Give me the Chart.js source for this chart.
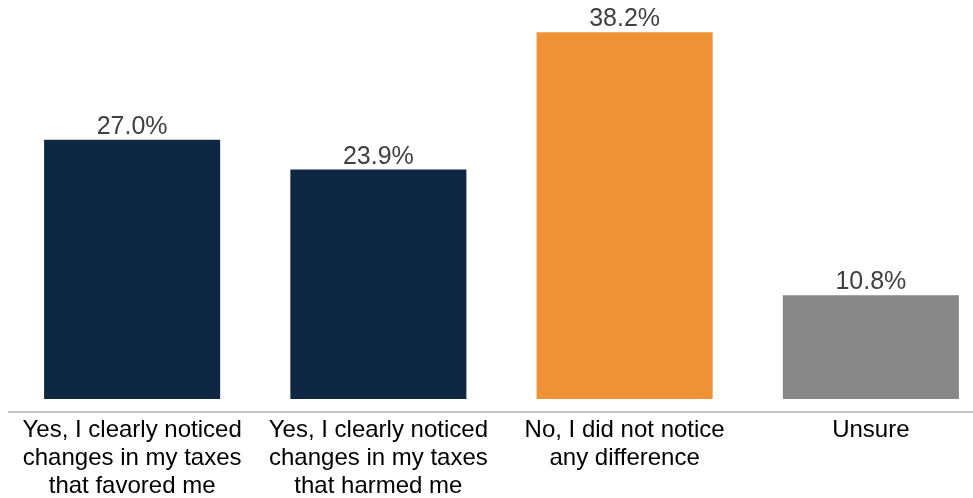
<!DOCTYPE html>
<html>
<head>
<meta charset="utf-8">
<script src="https://cdn.jsdelivr.net/npm/chart.js@4"></script>
<style>
  html, body { margin: 0; padding: 0; background: #fff; overflow: hidden; }
  #wrap { position: relative; width: 994px; height: 498px; }
</style>
</head>
<body>
<div id="wrap"><canvas id="c"></canvas></div>
<script>
const categories = [
  ["Yes, I clearly noticed", "changes in my taxes", "that favored me"],
  ["Yes, I clearly noticed", "changes in my taxes", "that harmed me"],
  ["No, I did not notice", "any difference"],
  ["Unsure"]
];
const values = [27.0, 23.9, 38.2, 10.8];
const valueLabels = ["27.0%", "23.9%", "38.2%", "10.8%"];
const barColors = ["#0e2841", "#0e2841", "#ef9236", "#878787"];

const FONT = '"Liberation Sans", Arial, Helvetica, sans-serif';

const valueLabelPlugin = {
  id: 'valueLabels',
  afterDatasetsDraw(chart) {
    const ctx = chart.ctx;
    const meta = chart.getDatasetMeta(0);
    ctx.save();
    ctx.font = '25px ' + FONT;
    ctx.fillStyle = '#404040';
    ctx.textAlign = 'center';
    ctx.textBaseline = 'alphabetic';
    meta.data.forEach((bar, i) => {
      ctx.fillText(valueLabels[i], bar.x, bar.y - 6);
    });
    ctx.restore();
  }
};

new Chart(document.getElementById('c'), {
  type: 'bar',
  data: {
    labels: categories,
    datasets: [{
      data: values,
      backgroundColor: barColors,
      borderWidth: 0,
      barPercentage: 0.715,
      categoryPercentage: 1.0
    }]
  },
  options: {
    responsive: true,
    maintainAspectRatio: false,
    animation: false,
    devicePixelRatio: 1,
    layout: { padding: { left: 9, right: 0, top: 0, bottom: 0 } },
    plugins: { legend: { display: false }, tooltip: { enabled: false } },
    scales: {
      x: {
        grid: { display: false, drawTicks: false },
        border: { display: true, color: '#c4c4c4', width: 2 },
        ticks: {
          color: '#000000',
          font: { family: FONT, size: 24, lineHeight: 1.15 },
          padding: 5,
          maxRotation: 0,
          autoSkip: false
        },
        afterFit(scale) { scale.height = 86; }
      },
      y: {
        display: false,
        min: -1.354,
        max: 41.56
      }
    }
  },
  plugins: [valueLabelPlugin]
});
</script>
</body>
</html>
